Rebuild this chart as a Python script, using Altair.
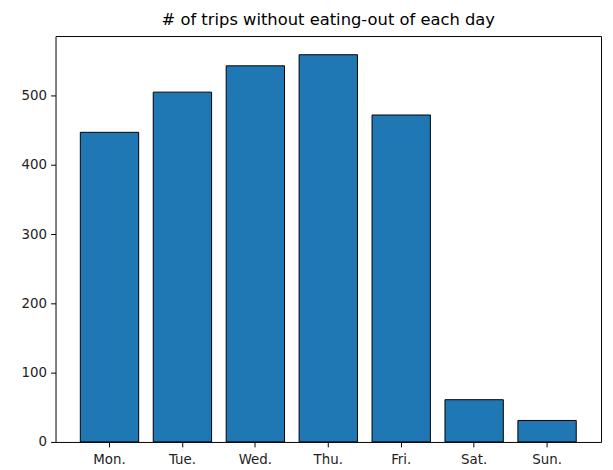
import altair as alt
import pandas as pd

days = ["Mon.", "Tue.", "Wed.", "Thu.", "Fri.", "Sat.", "Sun."]
trips = [447, 505, 543, 559, 472, 61, 31]

df = pd.DataFrame({"day": days, "trips": trips})

FONT = "DejaVu Sans"

chart = alt.Chart(df).mark_bar(
    color="#1f77b4", stroke="black", strokeWidth=1
).encode(
    x=alt.X("day:N", sort=days,
            scale=alt.Scale(paddingInner=0.2, paddingOuter=0.34),
            axis=alt.Axis(title=None, labelAngle=0, tickSize=5, labelPadding=6,
                          domain=False, grid=False)),
    y=alt.Y("trips:Q", scale=alt.Scale(domain=[0, 586], nice=False),
            axis=alt.Axis(title=None, values=[0, 100, 200, 300, 400, 500],
                          tickSize=5, labelPadding=4, domain=False, grid=False)),
).properties(
    width=551,
    height=410,
    title=alt.TitleParams("# of trips without eating-out of each day",
                          fontSize=16.5, fontWeight="normal", font=FONT,
                          color="black", offset=8, anchor="middle"),
    autosize=alt.AutoSizeParams(type="none"),
    padding={"left": 48, "top": 26, "right": 4, "bottom": 24},
).configure_view(
    stroke="black", strokeWidth=1
).configure_axis(
    labelFont=FONT, labelFontSize=13.5, labelColor="#222222",
    tickColor="black", tickWidth=1
)

chart.save("out.html", embed_options={"renderer": "svg", "actions": False})
